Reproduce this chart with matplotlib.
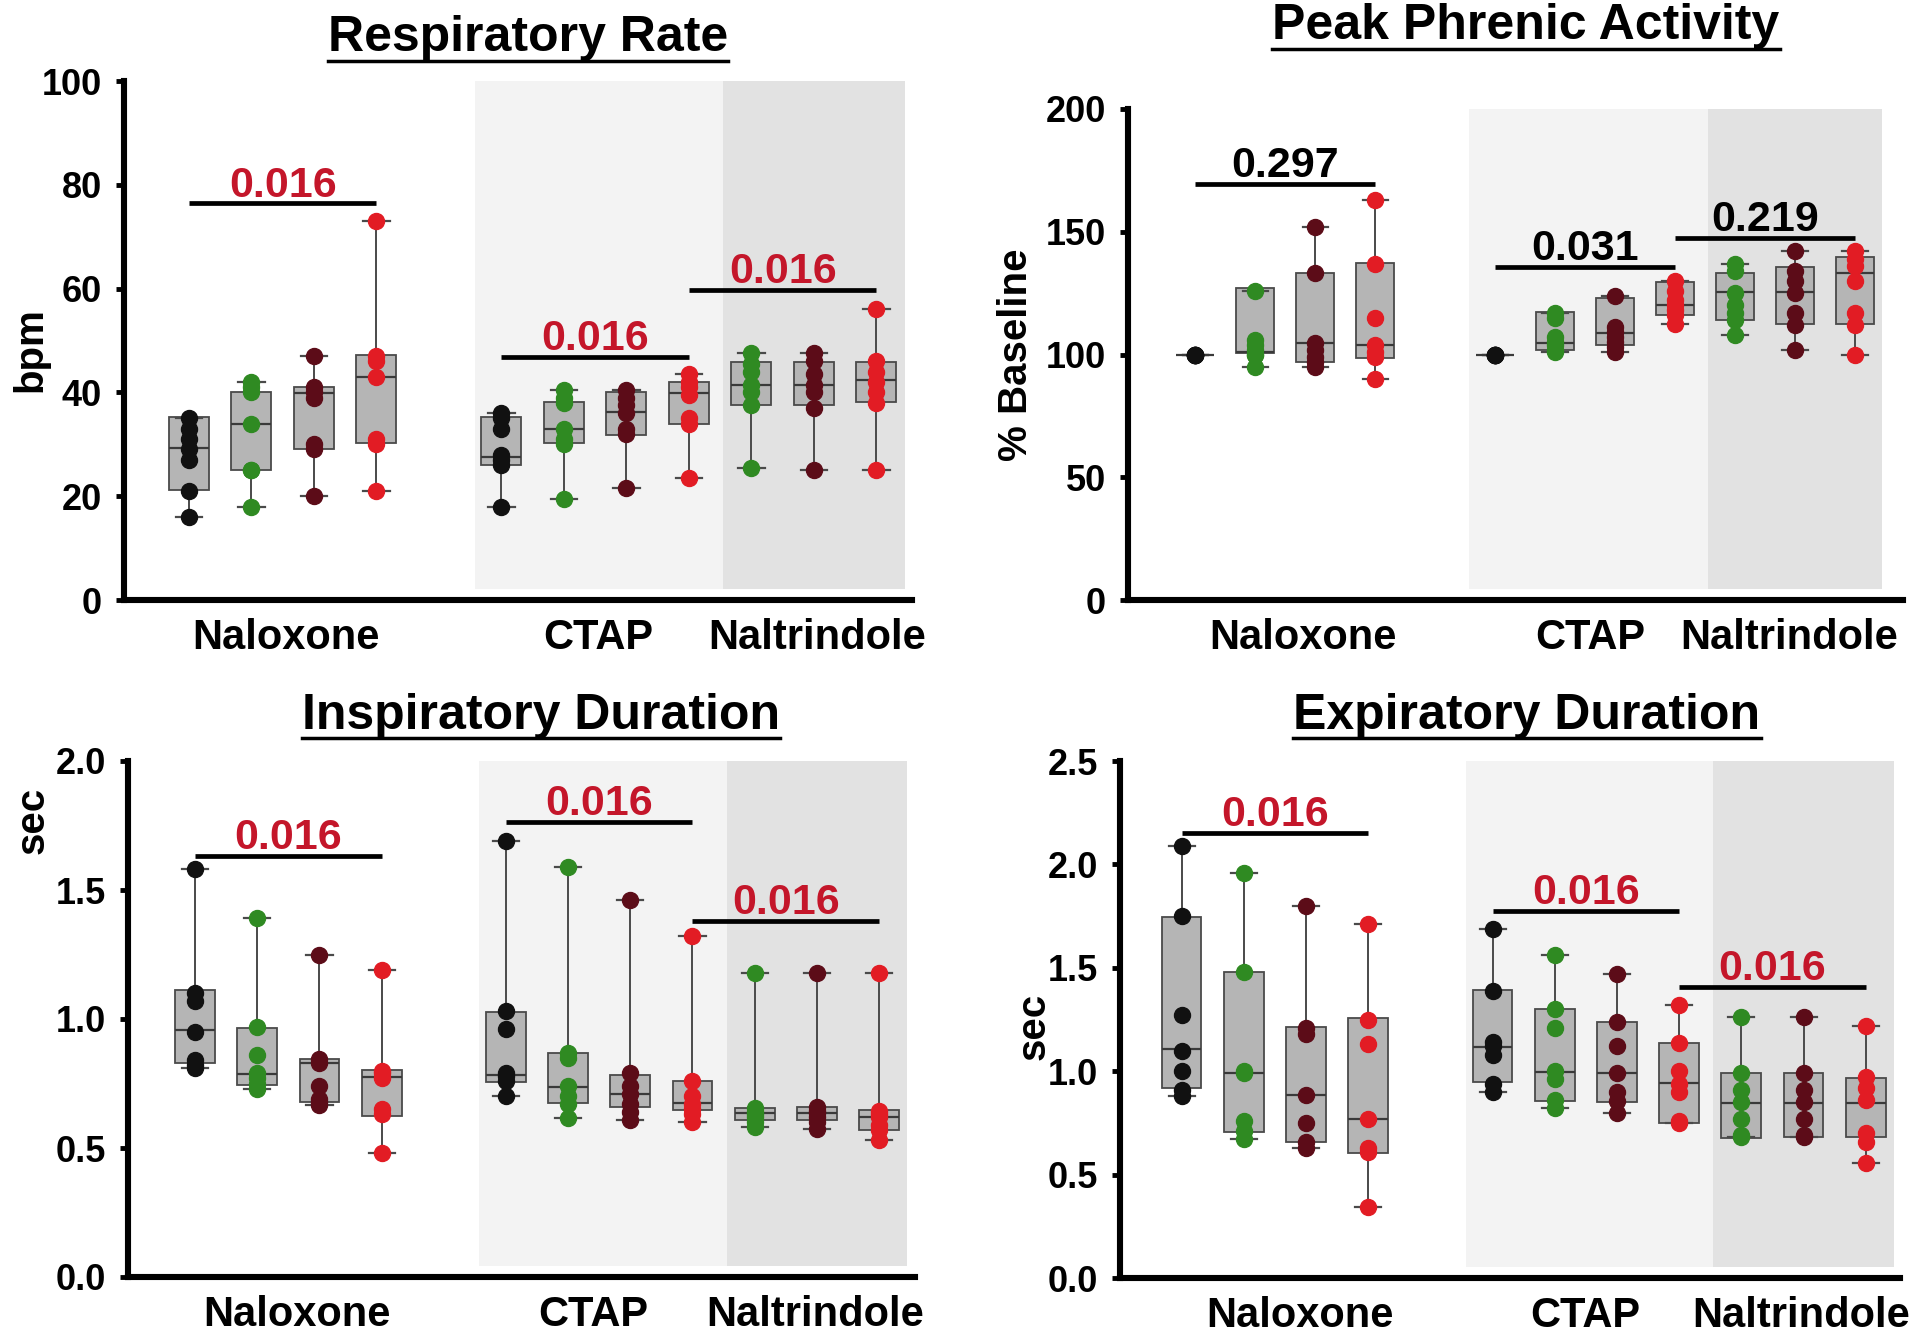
import numpy as np
import matplotlib.pyplot as plt
from matplotlib.lines import Line2D

plt.rcParams['font.family'] = ['Liberation Sans', 'DejaVu Sans']
plt.rcParams['font.weight'] = 'bold'

# posicao de cada box: Naloxone (4), CTAP (4), Naltrindole (3)
positions = [0, 1, 2, 3, 5, 6, 7, 8, 9, 10, 11]
box_colors = ['#111111', '#2f8a22', '#5c0c18', '#e21c24',
              '#111111', '#2f8a22', '#5c0c18', '#e21c24',
              '#2f8a22', '#5c0c18', '#e21c24']
group_labels = ['Naloxone', 'CTAP', 'Naltrindole']

# Respiratory Rate (bpm)
rr_points = [
    [16, 21, 27, 29, 31, 33, 35],
    [18, 25, 25, 34, 40, 41, 42],
    [20, 29, 30, 39, 40, 41, 47],
    [21, 30, 31, 43, 46, 47, 73],
    [18, 26, 27, 28, 33, 35, 36],
    [19.5, 30, 31, 33, 38, 39, 40.5],
    [21.5, 32, 33, 36, 37.5, 39, 40.5],
    [23.5, 34, 35, 39.5, 41, 42, 43.5],
    [25.5, 37.5, 40, 41.5, 44, 45.5, 47.5],
    [25, 37, 40, 41.5, 43.5, 46, 47.5],
    [25, 38, 40, 42, 44, 46, 56],
]
rr_boxes = [(21.2, 29.2, 35.3), (25, 34, 40.1), (29, 39.8, 41.1), (30.2, 43, 47.2),
            (26, 27.6, 35.3), (30.2, 33, 38.2), (31.8, 36.3, 40.1), (34, 39.8, 42),
            (37.6, 41.4, 45.9), (37.6, 41.4, 45.9), (38.2, 42.4, 45.9)]
rr_bars = [(0, 3, 76.4, '0.016', 'r'), (4, 7, 46.9, '0.016', 'r'), (7, 10, 59.7, '0.016', 'r')]

# Peak Phrenic Activity (% baseline)
ppa_points = [
    [100] * 7,
    [95, 100, 100, 102, 104, 106, 126],
    [95, 97, 99, 102, 104.5, 133, 152],
    [90, 99, 101, 104, 115, 137, 163],
    [100] * 7,
    [101, 102, 104, 105, 107, 115, 117],
    [101, 103, 105, 107, 109, 111, 124],
    [112.5, 116, 118, 120, 122, 126, 130],
    [108, 114, 117, 120, 125, 134, 137],
    [102, 112, 117, 125, 130, 134, 142],
    [100, 112, 117, 130, 136, 139, 142],
]
ppa_boxes = [(100, 100, 100), (100.5, 101, 127), (97, 104.5, 133), (98.4, 104, 137.4),
             (100, 100, 100), (101.8, 104.5, 117.4), (103.9, 108.6, 122.9), (116, 120.2, 129.7),
             (114, 125.3, 133), (112.4, 125.3, 135.8), (112.4, 133, 139.6)]
ppa_bars = [(0, 3, 169.4, '0.297', 'k'), (4, 7, 135.8, '0.031', 'k'), (7, 10, 147.3, '0.219', 'k')]

# Inspiratory Duration (sec)
ti_points = [
    [0.81, 0.82, 0.84, 0.95, 1.07, 1.10, 1.58],
    [0.73, 0.75, 0.77, 0.79, 0.86, 0.97, 1.39],
    [0.665, 0.68, 0.69, 0.74, 0.83, 0.845, 1.25],
    [0.48, 0.63, 0.65, 0.77, 0.79, 0.80, 1.19],
    [0.70, 0.76, 0.78, 0.79, 0.96, 1.03, 1.69],
    [0.615, 0.67, 0.70, 0.74, 0.85, 0.87, 1.59],
    [0.61, 0.64, 0.67, 0.71, 0.74, 0.79, 1.46],
    [0.60, 0.63, 0.65, 0.67, 0.70, 0.76, 1.32],
    [0.58, 0.60, 0.62, 0.63, 0.64, 0.655, 1.18],
    [0.575, 0.60, 0.62, 0.635, 0.645, 0.66, 1.18],
    [0.53, 0.57, 0.59, 0.62, 0.63, 0.645, 1.18],
]
ti_boxes = [(0.828, 0.957, 1.112), (0.744, 0.787, 0.966), (0.68, 0.83, 0.844), (0.624, 0.776, 0.802),
            (0.757, 0.783, 1.028), (0.673, 0.735, 0.87), (0.66, 0.711, 0.783), (0.647, 0.673, 0.76),
            (0.608, 0.634, 0.654), (0.608, 0.634, 0.657), (0.57, 0.619, 0.647)]
ti_bars = [(0, 3, 1.632, '0.016', 'r'), (4, 7, 1.765, '0.016', 'r'), (7, 10, 1.381, '0.016', 'r')]

# Expiratory Duration (sec)
te_points = [
    [0.88, 0.91, 1.00, 1.10, 1.27, 1.75, 2.09],
    [0.67, 0.71, 0.76, 0.99, 1.0, 1.48, 1.96],
    [0.63, 0.66, 0.75, 0.885, 1.18, 1.21, 1.80],
    [0.345, 0.61, 0.63, 0.77, 1.13, 1.25, 1.71],
    [0.90, 0.94, 1.08, 1.12, 1.14, 1.39, 1.69],
    [0.82, 0.86, 0.96, 1.0, 1.21, 1.30, 1.56],
    [0.80, 0.855, 0.90, 0.99, 1.12, 1.24, 1.47],
    [0.75, 0.76, 0.90, 0.94, 1.0, 1.135, 1.32],
    [0.68, 0.69, 0.77, 0.85, 0.91, 0.99, 1.26],
    [0.68, 0.69, 0.77, 0.85, 0.91, 0.99, 1.26],
    [0.555, 0.66, 0.70, 0.86, 0.92, 0.97, 1.22],
]
te_boxes = [(0.917, 1.106, 1.747), (0.708, 0.99, 1.481), (0.659, 0.885, 1.212), (0.603, 0.767, 1.256),
            (0.949, 1.118, 1.393), (0.857, 0.998, 1.299), (0.853, 0.993, 1.24), (0.751, 0.941, 1.135),
            (0.676, 0.848, 0.99), (0.683, 0.848, 0.99), (0.68, 0.848, 0.966)]
te_bars = [(0, 3, 2.153, '0.016', 'r'), (4, 7, 1.773, '0.016', 'r'), (7, 10, 1.409, '0.016', 'r')]

W, H = 1924, 1342
fig = plt.figure(figsize=(W / 100, H / 100), dpi=100)

# painel: (dados, boxes, barras, titulo, ylabel, yticks, formato,
#          caixa em px (esq, dir, topo, base), xlim, posicoes dos rotulos x,
#          titulo (x, baseline, sublinhado), ylabel (x, y))
paineis = [
    (rr_points, rr_boxes, rr_bars, 'Respiratory Rate', 'bpm', [0, 20, 40, 60, 80, 100], '%d',
     (124, 912, 81, 600), (-1.04, 11.57), [1.55, 6.55, 10.05], (528, 51, 61), (30, 350)),
    (ppa_points, ppa_boxes, ppa_bars, 'Peak Phrenic Activity', '% Baseline', [0, 50, 100, 150, 200], '%d',
     (1128, 1903, 109, 600), (-1.12, 11.8), [1.8, 6.58, 9.9], (1526, 39, 49), (1016, 355)),
    (ti_points, ti_boxes, ti_bars, 'Inspiratory Duration', 'sec', [0, 0.5, 1.0, 1.5, 2.0], '%.1f',
     (128, 915, 761, 1277), (-1.08, 11.58), [1.64, 6.4, 9.98], (541, 729, 738), (33, 820)),
    (te_points, te_boxes, te_bars, 'Expiratory Duration', 'sec', [0, 0.5, 1.0, 1.5, 2.0, 2.5], '%.1f',
     (1120, 1900, 761, 1278), (-0.99, 11.55), [1.91, 6.49, 9.96], (1527, 729, 738), (1034, 1026)),
]

titulos = []
for (pts, boxes, bars, titulo, ylab, yt, fmt, px, xl, xtp, tpos, ypos) in paineis:
    esq, dir_, topo, base = px
    ax = fig.add_axes([esq / W, 1 - base / H, (dir_ - esq) / W, (base - topo) / H])
    ax.set_xlim(*xl)
    ax.set_ylim(yt[0], yt[-1])

    # faixas de fundo (CTAP e Naltrindole)
    ax.axvspan(4.57, 8.55, ymin=0.022, ymax=1, color='#f3f3f3', lw=0, zorder=0)
    ax.axvspan(8.55, 11.45, ymin=0.022, ymax=1, color='#e2e2e2', lw=0, zorder=0)

    stats = []
    for p, b in zip(pts, boxes):
        stats.append(dict(q1=b[0], med=b[1], q3=b[2], whislo=min(p), whishi=max(p), fliers=[]))
    ax.bxp(stats, positions=positions, widths=0.64, capwidths=0.42, patch_artist=True,
           showfliers=False,
           boxprops=dict(facecolor='#b5b5b5', edgecolor='#4a4a4a', linewidth=1.3),
           medianprops=dict(color='#3a3a3a', linewidth=1.6),
           whiskerprops=dict(color='#4a4a4a', linewidth=1.4),
           capprops=dict(color='#4a4a4a', linewidth=1.6), zorder=2)

    for x, p, c in zip(positions, pts, box_colors):
        ax.plot([x] * len(p), p, 'o', color=c, ms=11.5, mec=c, zorder=3, clip_on=False)

    for i0, i1, y, txt, cor in bars:
        x0, x1 = positions[i0], positions[i1]
        ax.plot([x0, x1], [y, y], color='black', lw=3.4, zorder=4, solid_capstyle='butt')
        ax.annotate(txt, ((x0 + x1) / 2, y), xytext=(0, 5), textcoords='offset points',
                    ha='center', va='baseline', fontsize=31, fontweight='bold',
                    color='#c4162a' if cor == 'r' else 'black', zorder=5)

    ax.spines['top'].set_visible(False)
    ax.spines['right'].set_visible(False)
    ax.spines['left'].set_linewidth(4.4)
    ax.spines['bottom'].set_linewidth(4.4)
    ax.set_yticks(yt)
    ax.set_yticklabels([fmt % v for v in yt], fontsize=26, fontweight='bold')
    ax.tick_params(axis='y', length=6, width=3.5, pad=10)
    ax.set_xticks(xtp)
    ax.set_xticklabels(group_labels, fontsize=30, fontweight='bold')
    ax.tick_params(axis='x', length=0, pad=13)
    ax.patch.set_alpha(0)

    t = fig.text(tpos[0] / W, 1 - tpos[1] / H, titulo, ha='center', va='baseline',
                 fontsize=36, fontweight='bold')
    titulos.append((t, tpos[2]))
    fig.text(ypos[0] / W, 1 - ypos[1] / H, ylab, ha='center', va='center', rotation=90,
             fontsize=29, fontweight='bold')

# sublinhado dos titulos
fig.canvas.draw()
r = fig.canvas.get_renderer()
for t, yu in titulos:
    bb = t.get_window_extent(renderer=r)
    fig.add_artist(Line2D([bb.x0 / W, bb.x1 / W], [1 - yu / H, 1 - yu / H],
                          transform=fig.transFigure, color='black', lw=2.5))

fig.savefig('out.png', dpi=100, facecolor='white')
